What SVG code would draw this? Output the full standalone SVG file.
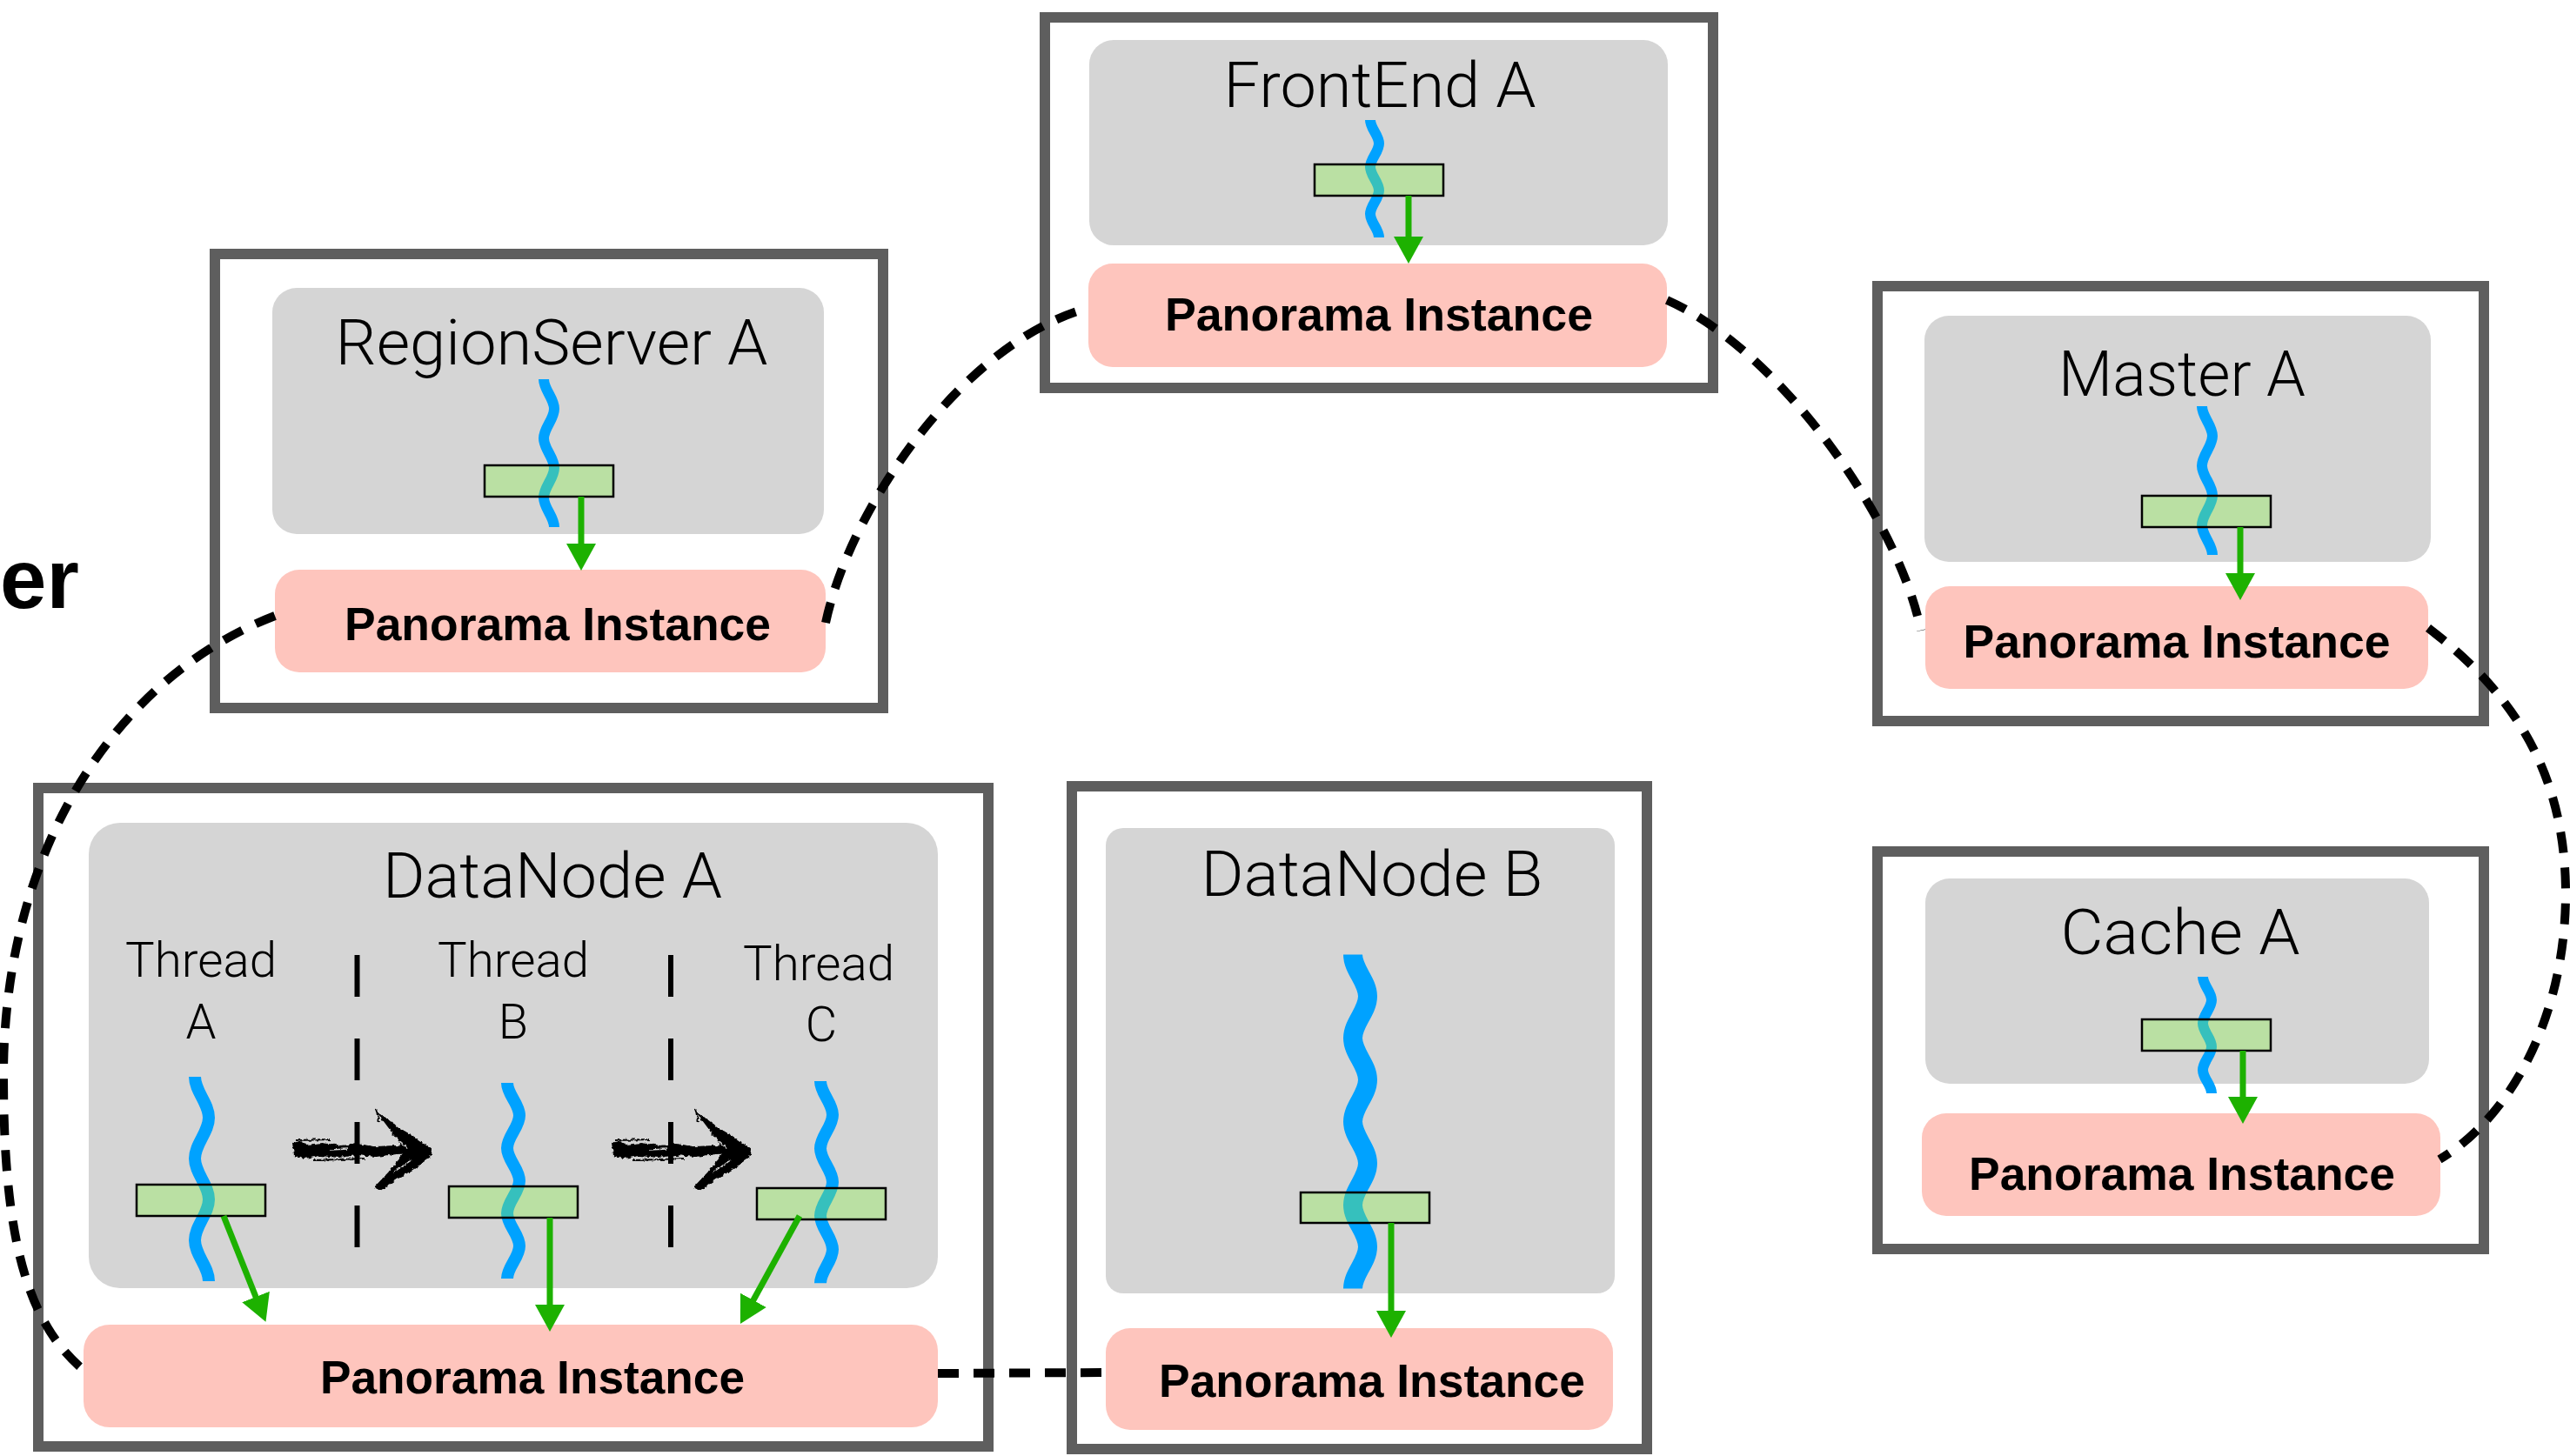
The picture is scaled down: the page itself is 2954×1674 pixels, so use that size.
<svg xmlns="http://www.w3.org/2000/svg" width="2954" height="1674" viewBox="0 0 2954 1674">
  <defs>
    <style>
      .frame { fill: #ffffff; stroke: #5e5e5e; stroke-width: 12; }
      .proc { fill: #d5d5d5; }
      .pan { fill: #fec5bd; }
      .title { font-family: Roboto, "Liberation Sans", Arial, sans-serif; font-weight: 300; font-size: 72px; fill: #000; text-anchor: middle; }
      .thr { font-size: 56px; }
      .pantxt { font-family: "Liberation Sans", Arial, Helvetica, sans-serif; font-weight: bold; font-size: 53px; fill: #000; text-anchor: middle; }
      .wave { fill: none; stroke: #00a2ff; stroke-width: 12; }
      .wave.t { stroke-width: 14; }
      .wave.big { stroke-width: 22; }
      .buf { fill: #8df252; fill-opacity: 0.38; stroke: #000; stroke-width: 2.5; }
      .flow { fill: none; stroke: #1db100; stroke-width: 7; marker-end: url(#head); }
      .sep { stroke: #000; stroke-width: 6; stroke-dasharray: 48 48; }
      .link { fill: none; stroke: #000; stroke-width: 10; stroke-dasharray: 24 17; }
    </style>
    <marker id="head" markerUnits="userSpaceOnUse" markerWidth="32" markerHeight="36" viewBox="0 -18 32 36" refX="1" refY="0" orient="auto">
      <path d="M0,-17 L31,0 L0,17 Z" fill="#1db100"/>
    </marker>
    <filter id="rough" x="-10%" y="-20%" width="120%" height="140%">
      <feTurbulence type="fractalNoise" baseFrequency="0.22" numOctaves="2" seed="3"/>
      <feDisplacementMap in="SourceGraphic" scale="5" xChannelSelector="R" yChannelSelector="G"/>
    </filter>
    <!-- hand-drawn hand-off arrow between threads -->
    <g id="sketch" filter="url(#rough)">
      <path d="M336,1314 L345,1312 L352,1316 L370,1314 L392,1317 L410,1315 L430,1318 L455,1317 L478,1319 L479,1326 L455,1327 L432,1330 L410,1328 L390,1331 L368,1329 L350,1332 L338,1329 Z" fill="#000"/>
      <path d="M431,1276 L438,1281 L458,1296 L478,1308 L497,1322 L495,1331 L476,1344 L455,1357 L437,1369 L430,1365 L447,1347 L463,1327 L458,1312 L446,1296 Z" fill="#000"/>
      <path d="M340,1311 L380,1310 M360,1334 L420,1332 M432,1274 L436,1290" stroke="#000" stroke-width="2" fill="none"/>
      <path d="M446,1302 L468,1320 M452,1348 L474,1333 M380,1322 L400,1321" stroke="#d5d5d5" stroke-width="1.5" fill="none"/>
    </g>
  </defs>

  <rect width="2954" height="1674" fill="#ffffff"/>

  <text x="0" y="699" font-family="'Liberation Sans', Arial, sans-serif" font-weight="bold" font-size="96">er</text>

  <!-- FrontEnd A -->
  <g id="frontend-a">
    <rect class="frame" x="1201" y="20" width="768" height="426"/>
    <rect class="proc" x="1252" y="46" width="665" height="236" rx="28"/>
    <text class="title" x="1586" y="123" textLength="359" lengthAdjust="spacingAndGlyphs">FrontEnd A</text>
    <path class="wave" d="M1575,138 C1575,147.7 1585,155.3 1585,165 S1575,182.3 1575,192 S1585,209.3 1585,219 S1575,236.3 1575,246 S1585,263.3 1585,273"/>
    <rect class="buf" x="1511" y="189" width="148" height="36"/>
    <rect class="pan" x="1251" y="303" width="665" height="119" rx="28"/>
    <text class="pantxt" x="1585" y="380" textLength="492" lengthAdjust="spacingAndGlyphs">Panorama Instance</text>
    <path class="flow" d="M1619,225 V273"/>
  </g>

  <!-- RegionServer A -->
  <g id="regionserver-a">
    <rect class="frame" x="247" y="292" width="768" height="522"/>
    <rect class="proc" x="313" y="331" width="634" height="283" rx="28"/>
    <text class="title" x="634" y="419" textLength="497" lengthAdjust="spacingAndGlyphs">RegionServer A</text>
    <path class="wave" d="M625,436 C625,448.2 637,457.8 637,470 S625,491.8 625,504 S637,525.8 637,538 S625,559.8 625,572 S637,593.8 637,606"/>
    <rect class="buf" x="557" y="535" width="148" height="36"/>
    <rect class="pan" x="316" y="655" width="633" height="118" rx="28"/>
    <text class="pantxt" x="641" y="736" textLength="490" lengthAdjust="spacingAndGlyphs">Panorama Instance</text>
    <path class="flow" d="M668,571 V626"/>
  </g>

  <!-- Master A -->
  <g id="master-a">
    <rect class="frame" x="2158" y="329" width="697" height="500"/>
    <rect class="proc" x="2212" y="363" width="582" height="283" rx="28"/>
    <text class="title" x="2508" y="455" textLength="284" lengthAdjust="spacingAndGlyphs">Master A</text>
    <path class="wave" d="M2531,467 C2531,479.3 2543,488.9 2543,501.2 S2531,523.1 2531,535.4 S2543,557.3 2543,569.6 S2531,591.5 2531,603.8 S2543,625.7 2543,638"/>
    <rect class="buf" x="2462" y="570" width="148" height="36"/>
    <rect class="pan" x="2213" y="674" width="578" height="118" rx="28"/>
    <text class="pantxt" x="2502" y="756" textLength="491" lengthAdjust="spacingAndGlyphs">Panorama Instance</text>
    <path class="flow" d="M2575,606 V660"/>
  </g>

  <!-- Cache A -->
  <g id="cache-a">
    <rect class="frame" x="2158" y="979" width="697" height="457"/>
    <rect class="proc" x="2213" y="1010" width="579" height="236" rx="28"/>
    <text class="title" x="2506" y="1097" textLength="275" lengthAdjust="spacingAndGlyphs">Cache A</text>
    <path class="wave" d="M2532,1123 C2532,1132.6 2542,1140.2 2542,1149.8 S2532,1167 2532,1176.6 S2542,1193.8 2542,1203.4 S2532,1220.6 2532,1230.2 S2542,1247.4 2542,1257"/>
    <rect class="buf" x="2462" y="1172" width="148" height="36"/>
    <rect class="pan" x="2209" y="1280" width="596" height="118" rx="28"/>
    <text class="pantxt" x="2508" y="1368" textLength="490" lengthAdjust="spacingAndGlyphs">Panorama Instance</text>
    <path class="flow" d="M2578,1208 V1262"/>
  </g>

  <!-- DataNode A -->
  <g id="datanode-a">
    <rect class="frame" x="44" y="906" width="1092" height="757"/>
    <rect class="proc" x="102" y="946" width="976" height="535" rx="36"/>
    <text class="title" x="635" y="1032" textLength="390" lengthAdjust="spacingAndGlyphs">DataNode A</text>
    <text class="title thr" x="231" y="1123" textLength="174" lengthAdjust="spacingAndGlyphs">Thread</text>
    <text class="title thr" x="231" y="1194">A</text>
    <text class="title thr" x="590" y="1123" textLength="174" lengthAdjust="spacingAndGlyphs">Thread</text>
    <text class="title thr" x="590" y="1194">B</text>
    <text class="title thr" x="941" y="1127" textLength="174" lengthAdjust="spacingAndGlyphs">Thread</text>
    <text class="title thr" x="944" y="1197">C</text>
    <line class="sep" x1="410.5" y1="1098" x2="410.5" y2="1434"/>
    <line class="sep" x1="771" y1="1098" x2="771" y2="1434"/>
    <use href="#sketch"/>
    <use href="#sketch" x="367"/>
    <path class="wave t" d="M224,1238 C224,1254.9 240,1268.1 240,1285 S224,1315.1 224,1332 S240,1362.1 240,1379 S224,1409.1 224,1426 S240,1456.1 240,1473"/>
    <path class="wave t" d="M583,1245 C583,1258.5 597,1269 597,1282.5 S583,1306.5 583,1320 S597,1344 597,1357.5 S583,1381.5 583,1395 S597,1419 597,1432.5 S583,1456.5 583,1470"/>
    <path class="wave t" d="M943,1243 C943,1256.9 957,1267.8 957,1281.7 S943,1306.5 943,1320.4 S957,1345.2 957,1359.1 S943,1383.9 943,1397.8 S957,1422.6 957,1436.5 S943,1461.3 943,1475.2"/>
    <rect class="buf" x="157" y="1362" width="148" height="36"/>
    <rect class="buf" x="516" y="1364" width="148" height="36"/>
    <rect class="buf" x="870" y="1366" width="148" height="36"/>
    <rect class="pan" x="96" y="1523" width="982" height="118" rx="30"/>
    <text class="pantxt" x="612" y="1602" textLength="488" lengthAdjust="spacingAndGlyphs">Panorama Instance</text>
    <path class="flow" d="M257,1398 L294.4,1492"/>
    <path class="flow" d="M632,1400 V1501"/>
    <path class="flow" d="M919,1398 L865.4,1495.7"/>
  </g>

  <!-- DataNode B -->
  <g id="datanode-b">
    <rect class="frame" x="1232" y="904" width="661" height="762"/>
    <rect class="proc" x="1271" y="952" width="585" height="535" rx="20"/>
    <text class="title" x="1577" y="1030" textLength="393" lengthAdjust="spacingAndGlyphs">DataNode B</text>
    <path class="wave big" d="M1555,1097.5 C1555,1114.8 1572,1128.2 1572,1145.5 S1555,1176.2 1555,1193.5 S1572,1224.2 1572,1241.5 S1555,1272.2 1555,1289.5 S1572,1320.2 1572,1337.5 S1555,1368.2 1555,1385.5 S1572,1416.2 1572,1433.5 S1555,1464.2 1555,1481.5"/>
    <rect class="buf" x="1495" y="1371" width="148" height="35"/>
    <rect class="pan" x="1271" y="1527" width="583" height="117" rx="28"/>
    <text class="pantxt" x="1577" y="1606" textLength="490" lengthAdjust="spacingAndGlyphs">Panorama Instance</text>
    <path class="flow" d="M1599,1406 V1508"/>
  </g>

  <!-- ring of links between the Panorama instances -->
  <g id="connectors">
    <path class="link" d="M316,708 C130,780 4,980 4,1237 C4,1420 30,1520 96,1575"/>
    <path class="link" d="M949,716 C978,580 1110,392 1251,354"/>
    <path class="link" d="M1916,345 C2040,400 2180,590 2208,725"/>
    <path class="link" d="M2791,722 C2880,790 2949,880 2949,1027 C2949,1170 2885,1285 2804,1333"/>
    <path class="link" d="M1078,1579 L1271,1578"/>
  </g>
</svg>
